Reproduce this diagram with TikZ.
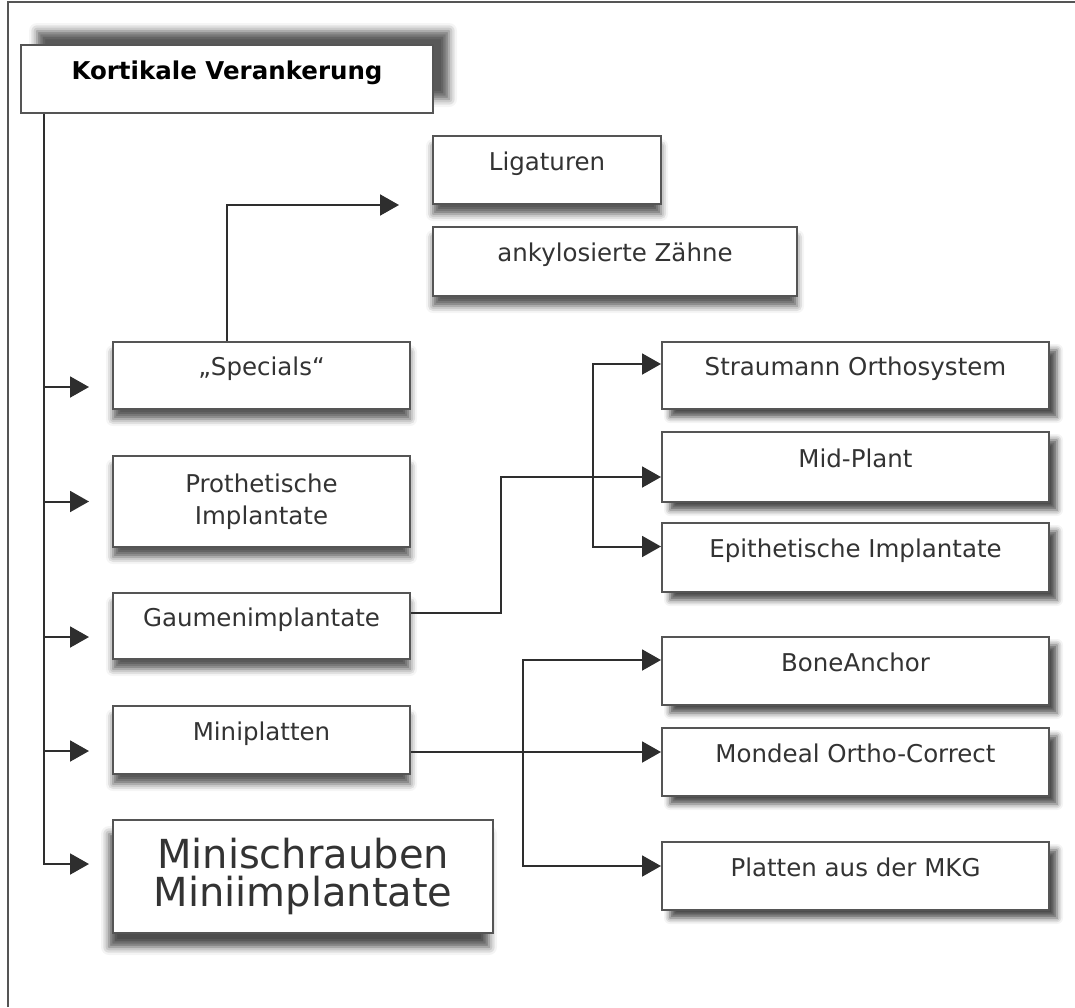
\documentclass[tikz,border=0pt]{standalone}
\usepackage{fontspec}
\setmainfont{DejaVu Sans}
\usetikzlibrary{arrows.meta, shadows.blur}

\definecolor{boxline}{HTML}{555555}
\definecolor{wire}{HTML}{2E2E2E}
\definecolor{ink}{HTML}{333333}

\begin{document}
\begin{tikzpicture}[x=1pt,y=-1pt,-{Triangle[length=19pt,width=21pt]},
                    line width=2pt,draw=wire]
  \tikzstyle{item} = [draw=boxline, fill=white, rectangle, inner sep=0pt,
                      font=\fontsize{24.5}{32}\selectfont, text=ink]
  \tikzstyle{oneline} = [text height=17pt, text depth=17pt]
  \tikzstyle{downshade} = [blur shadow={shadow xshift=0pt, shadow yshift=-10pt,
                           shadow blur radius=7pt, shadow opacity=65}]
  \tikzstyle{rightshade} = [blur shadow={shadow xshift=8pt, shadow yshift=-8pt,
                            shadow blur radius=6pt, shadow opacity=70}]
  \tikzstyle{upshade} = [blur shadow={shadow xshift=16pt, shadow yshift=14pt,
                         shadow blur radius=8pt, shadow opacity=65}]
  \tikzstyle{leftcol} = [item, oneline, downshade, minimum width=297pt]
  \tikzstyle{rightcol} = [item, oneline, rightshade, minimum width=387pt,
                          minimum height=68pt]
  \useasboundingbox (0,0) rectangle (1075,1007);
  \draw[-, draw=boxline] (8,1007) |- (1075,2);

  % top
  \node [item, oneline, upshade, minimum width=412pt, minimum height=68pt,
         text=black] (kort) at (227,79) {\bfseries Kortikale Verankerung};
  \node [item, oneline, downshade, minimum width=228pt, minimum height=68pt]
        (lig) at (547,170) {Ligaturen};
  \node [item, oneline, downshade, minimum width=364pt, minimum height=69pt]
        (anky) at (615,261.5) {ankylosierte Zähne};

  % left column
  \node [leftcol, minimum height=67pt] (spec) at (261.5,375.5) {„Specials“};
  \node [item, downshade, align=center, minimum width=297pt, minimum height=91pt]
        (proth) at (261.5,501.5) {Prothetische\\Implantate};
  \node [leftcol, minimum height=66pt] (gaum) at (261.5,626) {Gaumenimplantate};
  \node [leftcol, minimum height=68pt] (minip) at (261.5,740) {Miniplatten};
  \node [item, align=center, font=\fontsize{40}{38}\selectfont,
         blur shadow={shadow xshift=-4pt, shadow yshift=-14pt,
                      shadow blur radius=8pt, shadow opacity=70},
         minimum width=380pt, minimum height=113pt]
        (minis) at (303,876.5) {Minischrauben\\Miniimplantate};

  % right column
  \node [rightcol, minimum height=67pt] (straum) at (855.5,375.5) {Straumann Orthosystem};
  \node [rightcol, minimum height=70pt] (mid) at (855.5,467) {Mid-Plant};
  \node [rightcol, minimum height=69pt] (epi) at (855.5,557.5) {Epithetische Implantate};
  \node [rightcol] (bone) at (855.5,671) {BoneAnchor};
  \node [rightcol] (mond) at (855.5,762) {Mondeal Ortho-Correct};
  \node [rightcol] (platt) at (855.5,876) {Platten aus der MKG};

  % connectors
  \coordinate (trunk) at ([xshift=-183pt]kort.south);
  \draw[shorten >=23pt] (trunk) |- ([yshift=-11.5pt]spec.west);
  \draw[shorten >=23pt] (trunk) |- (proth.west);
  \draw[shorten >=23pt] (trunk) |- ([yshift=-11pt]gaum.west);
  \draw[shorten >=23pt] (trunk) |- ([yshift=-11pt]minip.west);
  \draw[shorten >=23pt] (trunk) |- ([yshift=12.5pt]minis.west);

  \draw[shorten >=33pt] ([xshift=-34.5pt]spec.north) |- (lig.south west);

  \coordinate (gfork) at (593,455);
  \draw ([yshift=13pt]gaum.east) -- ++(90,0) |- ([yshift=-10pt]mid.west);
  \draw (gfork) |- ([yshift=11.5pt]straum.west);
  \draw (gfork) |- ([yshift=11pt]epi.west);

  \coordinate (mfork) at (523,760);
  \draw ([yshift=-12pt]minip.east) -- ([yshift=10pt]mond.west);
  \draw (mfork) |- ([yshift=11pt]bone.west);
  \draw (mfork) |- ([yshift=10pt]platt.west);
\end{tikzpicture}
\end{document}
